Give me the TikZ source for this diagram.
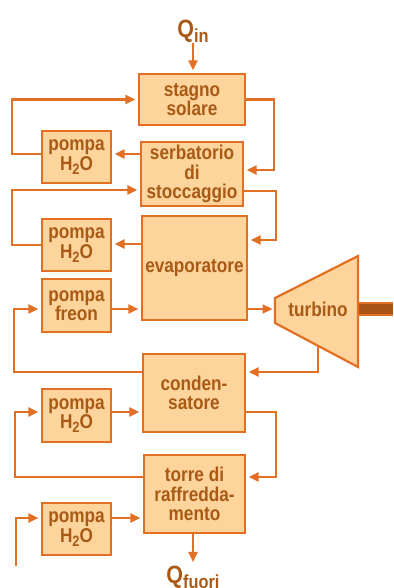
\documentclass[tikz,border=0pt]{standalone}
\usepackage{fontspec}
\setmainfont{Liberation Sans}[FakeStretch=0.86]
\usepackage{tikz}
\usetikzlibrary{arrows.meta,calc,positioning}
\definecolor{lineor}{HTML}{E27024}
\definecolor{fillor}{HTML}{FDD49B}
\definecolor{textbr}{HTML}{A85A16}
\definecolor{shaftbr}{HTML}{A85416}
\newcommand{\subtxt}[2][-4pt]{\raisebox{#1}{\fontsize{15}{15}\selectfont #2}}

\begin{document}
\begin{tikzpicture}[x=1pt,y=-1pt,>={Triangle[length=10pt,width=9pt]},
	font=\fontsize{20}{19.5}\selectfont\bfseries, text=textbr]
	\tikzstyle{block} = [draw=lineor, fill=fillor, line width=2.2pt, align=center, inner sep=0pt]
	\tikzstyle{pump} = [block, minimum width=69pt, minimum height=52pt]
	\tikzstyle{flow} = [draw=lineor, line width=2.2pt, ->, shorten >=2.5pt]
	\tikzstyle{qlabel} = [font=\fontsize{25}{25}\selectfont\bfseries, inner sep=1pt]
	\useasboundingbox (0,0) rectangle (393,588);
	
	\node [qlabel] (qin) at (193,31) {Q\raisebox{-5pt}{\fontsize{19}{19}\selectfont in}};
	\node [block, minimum width=106pt, minimum height=51pt] (stagno) at (192,99.5) {stagno\\solare};
	\node [pump] (pompa1) at (76.5,157) {pompa\\H\subtxt{2}O};
	\node [block, minimum width=102pt, minimum height=64pt] (serbat) at (192,174) {serbatorio\\di\\stoccaggio};
	\node [pump] (pompa2) at (76.5,245) {pompa\\H\subtxt{2}O};
	\node [block, minimum width=105pt, minimum height=104pt] (evap) at (194.5,268) {evaporatore};
	\node [pump, minimum height=53pt] (freon) at (76.5,305.5) {pompa\\freon};
	\node [block, minimum width=102pt, minimum height=78pt] (cond) at (194,393) {conden-\\satore};
	\node [pump, minimum height=53pt] (pompa3) at (76.5,415.5) {pompa\\H\subtxt{2}O};
	\node [block, minimum width=101pt, minimum height=78pt] (torre) at (194.5,494) {torre di\\raffredda-\\mento};
	\node [pump] (pompa4) at (76.5,529) {pompa\\H\subtxt{2}O};
	\node [qlabel] (qout) at (193,577) {Q\raisebox{-5pt}{\fontsize{19}{19}\selectfont fuori}};
	
	% turbine and shaft
	\fill [shaftbr] (358,303) rectangle (393,315);
	\draw [draw=lineor, line width=1.8pt] (358,303) -- (393,303) (358,315) -- (393,315);
	\draw [block] (275,298) -- (358,256) -- (358,367) -- (275,323) -- cycle;
	\node (turb) at (318,309) {turbino};
	\coordinate (tin) at (275,309);
	\coordinate (tout) at (318,346);
	\coordinate (c4) at (16,566);
	
	\draw [flow] (qin.south) -- (qin.south |- stagno.north);
	\draw [flow] (stagno.east) -- ++(28,0) |- (serbat.east |- 0,170);
	\draw [flow] (serbat.west |- 0,154) -- (pompa1.east |- 0,154);
	\draw [flow] (pompa1.west |- 0,154) -- ++(-29,0) |- (stagno.west);
	\draw [flow] (serbat.east |- 0,191) -- ++(32,0) |- (evap.east |- 0,240);
	\draw [flow] (evap.west |- 0,244) -- (pompa2.east |- 0,244);
	\draw [flow] (pompa2.west) -- ++(-29,0) |- (serbat.west |- 0,190);
	\draw [flow] (freon.east |- 0,309) -- (evap.west |- 0,309);
	\draw [flow] (evap.east |- 0,309) -- (tin);
	\draw [flow] (tout) |- (cond.east |- 0,372);
	\draw [flow] (cond.west |- 0,372) -- ++(-128,0) |- (freon.west |- 0,309);
	\draw [flow] (pompa3.east |- 0,412) -- (cond.west |- 0,412);
	\draw [flow] (cond.east |- 0,412) -- ++(30,0) |- (torre.east |- 0,477);
	\draw [flow] (torre.west |- 0,477) -- ++(-128,0) |- (pompa3.west |- 0,412);
	\draw [flow] (pompa4.east |- 0,518) -- (torre.west |- 0,518);
	\draw [flow] (c4) |- (pompa4.west |- 0,518);
	\draw [flow] (qout.north |- torre.south) -- (qout.north);
	
\end{tikzpicture}
\end{document}
